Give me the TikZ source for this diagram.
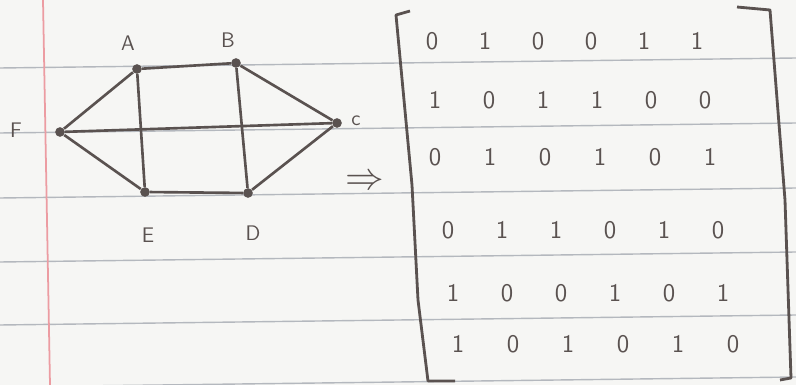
\documentclass[tikz,border=0pt]{standalone}
\usepackage{tikz}
\usetikzlibrary{positioning}
\definecolor{ink}{HTML}{5A5250}
\definecolor{paper}{HTML}{F6F6F4}
\definecolor{rulecol}{HTML}{B4B8BE}
\definecolor{margincol}{HTML}{EC9CA2}
\begin{document}
\begin{tikzpicture}[x=0.02cm, y=-0.02cm,
    every node/.style={font=\sffamily},
    vertex/.style={circle, fill=ink, inner sep=0pt, minimum size=5.5pt},
    edge/.style={ink, line width=1.5pt},
    vlabel/.style={font=\sffamily\large, text=ink},
    entry/.style={font=\sffamily\Large, text=ink},
    bracket/.style={ink, line width=1.6pt, line join=round},
    rule/.style={rulecol, line width=0.8pt}
]
% notebook page
\fill[paper] (0,0) rectangle (796,385);
\useasboundingbox (0,0) rectangle (796,385);
\foreach \r in {58,123,188,252,315,377}
    \draw[rule] (0,\r+10) -- (796,\r);
\draw[margincol, line width=1pt] (43,0) -- (50,385);

% graph
\node[vertex] (A) at (137,69)  {};
\node[vertex] (B) at (236,63)  {};
\node[vertex] (C) at (337,123) {};
\node[vertex] (D) at (248,193) {};
\node[vertex] (E) at (145,192) {};
\node[vertex] (F) at (60,132)  {};

\node[vlabel] (lA) at (128,43)  {A};
\node[vlabel] (lB) at (228,40)  {B};
\node[vlabel] (lC) at (356,121) {c};
\node[vlabel] (lD) at (253,233) {D};
\node[vlabel] (lE) at (148,235) {E};
\node[vlabel] (lF) at (16,130)  {F};

\draw[edge] (A) -- (B) -- (C) -- (D) -- (E) -- (F) -- (A);
\draw[edge] (A) -- (E);
\draw[edge] (B) -- (D);
\draw[edge] (F) -- (C);

\node[text=ink, scale=2.2] (imp) at (365,182) {$\Rightarrow$};

% adjacency matrix (rows drift right as the page is skewed)
\foreach \r/\y/\x/\s/\row in {1/41/432/53/{0,1,0,0,1,1}, 2/100/435/54/{1,0,1,1,0,0},
                              3/157/435/55/{0,1,0,1,0,1}, 4/230/448/54/{0,1,1,0,1,0},
                              5/293/453/54/{1,0,0,1,0,1}, 6/344/458/55/{1,0,1,0,1,0}}
    \foreach \v [count=\c] in \row
        \node[entry] (m\r\c) at ({\x+\s*(\c-1)},\y) {\v};

\draw[bracket] (410,11) -- (396,15) -- (412,185) -- (418,300) -- (428,381) -- (455,381);
\draw[bracket] (737,7) -- (770,10) -- (785,200) -- (791,378) -- (780,380);
\end{tikzpicture}
\end{document}
